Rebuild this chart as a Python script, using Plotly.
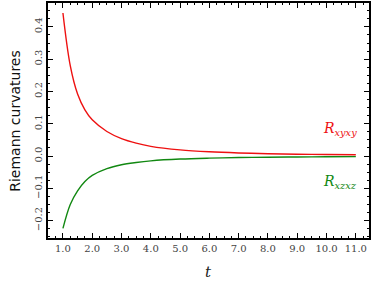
import plotly.graph_objects as go

t = [1.0, 1.25, 1.5, 1.75, 2.0, 2.5, 3.0, 3.5, 4.0, 5.0, 6.0, 7.0, 8.0, 9.0, 10.0, 11.0]
r_xyxy = [0.443, 0.280, 0.192, 0.143, 0.112, 0.076, 0.054, 0.040, 0.030, 0.019, 0.013, 0.0095, 0.0072, 0.0056, 0.0045, 0.0037]
r_xzxz = [-0.224, -0.150, -0.108, -0.079, -0.060, -0.039, -0.027, -0.020, -0.015, -0.0095, -0.0066, -0.0048, -0.0037, -0.0030, -0.0024, -0.0020]
x_ticks = [1, 2, 3, 4, 5, 6, 7, 8, 9, 10, 11]
x_labels = ["1.0", "2.0", "3.0", "4.0", "5.0", "6.0", "7.0", "8.0", "9.0", "10.0", "11.0"]
y_ticks = [-0.2, -0.1, 0.0, 0.1, 0.2, 0.3, 0.4]
y_labels = ["\u22120.2", "\u22120.1", "0.0", "0.1", "0.2", "0.3", "0.4"]

fig = go.Figure()
fig.add_trace(go.Scatter(x=t, y=r_xyxy, mode="lines", line=dict(color="#ee1111", width=1.4, shape="spline"), showlegend=False))
fig.add_trace(go.Scatter(x=t, y=r_xzxz, mode="lines", line=dict(color="#118811", width=1.4, shape="spline"), showlegend=False))

serif = "DejaVu Serif"
fig.add_annotation(x=10.45, y=0.083, text="<i>R</i><sub><i>xyxy</i></sub>", showarrow=False,
                   font=dict(family=serif, size=14, color="#ee1111"))
fig.add_annotation(x=10.45, y=-0.082, text="<i>R</i><sub><i>xzxz</i></sub>", showarrow=False,
                   font=dict(family=serif, size=14, color="#118811"))
fig.add_annotation(xref="paper", yref="paper", x=0.5, y=-0.145, yanchor="middle", text="<i>t</i>", showarrow=False,
                   font=dict(family=serif, size=15, color="#222"))
fig.add_annotation(xref="paper", yref="paper", x=-0.105, y=0.5, xanchor="center", yanchor="middle",
                   textangle=-90, text="Riemann curvatures", showarrow=False,
                   font=dict(family="DejaVu Sans", size=14, color="#111"))

axis_common = dict(showline=True, linecolor="black", linewidth=1.5, mirror="ticks", ticks="inside",
                   ticklen=5, tickwidth=1.2, tickcolor="black", showgrid=False, zeroline=False,
                   automargin=False, tickfont=dict(family=serif, size=10, color="#444"))
fig.update_xaxes(range=[0.49, 11.45], tickvals=x_ticks, ticktext=x_labels,
                 minor=dict(ticks="inside", ticklen=2.5, tickwidth=1, tickcolor="black", dtick=0.25, tick0=0.5),
                 **axis_common)
fig.update_yaxes(range=[-0.254, 0.474], tickvals=y_ticks, ticktext=y_labels, tickangle=-90,
                 minor=dict(ticks="inside", ticklen=2.5, tickwidth=1, tickcolor="black", dtick=0.025, tick0=0),
                 **axis_common)
fig.update_layout(width=374, height=281, margin=dict(l=48, r=5, t=3, b=43, autoexpand=False),
                  plot_bgcolor="white", paper_bgcolor="white")
fig.write_html("out.html", config={"displayModeBar": False},
               post_script="document.body.style.margin='0';document.body.style.padding='0';")
